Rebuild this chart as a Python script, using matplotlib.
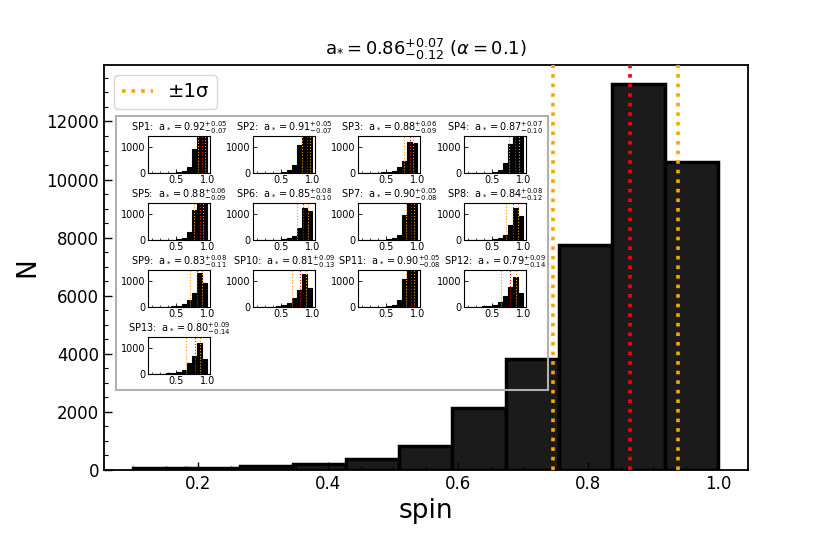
import numpy as np
import matplotlib
matplotlib.use('Agg')
import matplotlib.pyplot as plt
from matplotlib.patches import Rectangle
from matplotlib.ticker import AutoMinorLocator

# Main histogram (11 bins between 0.1 and 1.0)
bin_edges = np.linspace(0.1, 1.0, 12)
main_counts = [80, 70, 125, 220, 390, 840, 2120, 3830, 7760, 13280, 10620]
main_spin = 0.864
main_err_lo = 0.118
main_err_hi = 0.074

# Per-source histograms
sp_names = ['SP1', 'SP2', 'SP3', 'SP4', 'SP5', 'SP6', 'SP7',
            'SP8', 'SP9', 'SP10', 'SP11', 'SP12', 'SP13']
sp_spin = [0.92, 0.91, 0.88, 0.87, 0.88, 0.85, 0.90, 0.84, 0.83, 0.81, 0.90, 0.79, 0.80]
sp_err_hi = [0.05, 0.05, 0.06, 0.07, 0.06, 0.08, 0.05, 0.08, 0.08, 0.09, 0.05, 0.09, 0.09]
sp_err_lo = [0.07, 0.07, 0.09, 0.10, 0.09, 0.10, 0.08, 0.12, 0.11, 0.13, 0.08, 0.14, 0.14]
sp_counts = [
    [3, 3, 5, 8, 12, 25, 60, 230, 900, 2400, 2600],
    [3, 3, 5, 8, 15, 40, 120, 310, 1060, 2300, 2200],
    [5, 5, 10, 15, 25, 50, 90, 210, 440, 1190, 1130],
    [3, 3, 6, 10, 18, 45, 120, 370, 1090, 2100, 2000],
    [3, 3, 5, 8, 12, 25, 70, 320, 1140, 2200, 2100],
    [3, 3, 5, 8, 12, 25, 60, 165, 440, 1200, 1080],
    [3, 3, 5, 8, 12, 25, 65, 200, 960, 2300, 2400],
    [3, 3, 6, 10, 18, 35, 80, 200, 560, 1200, 900],
    [3, 3, 6, 12, 20, 40, 100, 250, 530, 1300, 900],
    [3, 5, 8, 15, 25, 60, 150, 350, 660, 1240, 720],
    [3, 3, 5, 8, 12, 25, 80, 280, 1050, 2300, 2300],
    [5, 8, 15, 25, 40, 90, 200, 430, 740, 1120, 530],
    [5, 8, 15, 25, 40, 70, 160, 410, 700, 1190, 560],
]

W, H = 830, 554
fig = plt.figure(figsize=(W / 100, H / 100), dpi=100)
ax = fig.add_axes([104 / W, 1 - 470 / H, (747.5 - 104) / W, (470 - 65) / H])

widths = np.diff(bin_edges)
ax.bar(bin_edges[:-1], main_counts, width=widths, align='edge',
       facecolor='#1b1b1b', edgecolor='black', linewidth=2.5)

ax.axvline(main_spin - main_err_lo, color='orange', ls=':', lw=2.6, label='±1σ', zorder=5)
ax.axvline(main_spin + main_err_hi, color='orange', ls=':', lw=2.6, zorder=5)
ax.axvline(main_spin, color='red', ls=':', lw=2.6, zorder=5)

ax.set_title(r'a$_{*} = 0.86^{+0.07}_{-0.12}$ ($\alpha = 0.1$)', fontsize=13, pad=7)
ax.set_xlabel('spin', fontsize=19)
ax.set_ylabel('N', fontsize=19)
ax.set_xticks([0.2, 0.4, 0.6, 0.8, 1.0])
ax.set_yticks(np.arange(0, 13000, 2000))
ax.xaxis.set_minor_locator(AutoMinorLocator(4))
ax.yaxis.set_minor_locator(AutoMinorLocator(4))
ax.tick_params(which='both', direction='in', labelsize=12)
ax.tick_params(which='major', length=6, width=1)
ax.tick_params(which='minor', length=3, width=0.8)
for s in ax.spines.values():
    s.set_linewidth(1.3)

ax.legend(loc='upper left', fontsize=14, handlelength=1.6)

# Grey frame around the per-source panels
fig.add_artist(Rectangle((116 / W, 1 - 390 / H), (548 - 116) / W, (390 - 116) / H,
                         transform=fig.transFigure, fill=False,
                         edgecolor='#b0b0b0', linewidth=1.5, zorder=10))

col_left = [148, 253, 358, 464]
row_top = [136, 203, 270, 337]
iw, ih = 62, 37
for i, name in enumerate(sp_names):
    r, c = divmod(i, 4)
    x0, y0 = col_left[c], row_top[r]
    iax = fig.add_axes([x0 / W, 1 - (y0 + ih) / H, iw / W, ih / H], zorder=11)
    iax.bar(bin_edges[:-1], sp_counts[i], width=widths, align='edge',
            facecolor='black', edgecolor='black', linewidth=0.8)
    med = sp_spin[i]
    iax.axvline(med - sp_err_lo[i], color='orange', ls=':', lw=0.8)
    iax.axvline(med + sp_err_hi[i], color='orange', ls=':', lw=0.8)
    iax.axvline(med, color='red', ls=':', lw=0.8)
    iax.set_xlim(0.055, 1.045)
    iax.set_ylim(0, 1400)
    iax.set_xticks([0.5, 1.0])
    iax.set_xticklabels(['0.5', '1.0'])
    iax.set_yticks([0, 1000])
    iax.xaxis.set_minor_locator(AutoMinorLocator(4))
    iax.tick_params(which='both', direction='in', labelsize=7, pad=1.5)
    iax.tick_params(which='major', length=3, width=0.6)
    iax.tick_params(which='minor', length=1.5, width=0.5)
    for s in iax.spines.values():
        s.set_linewidth(0.8)
    iax.set_title(r'%s:  a$_* = %.2f^{+%.2f}_{-%.2f}$' % (name, med, sp_err_hi[i], sp_err_lo[i]),
                  fontsize=7, pad=2)

fig.savefig('out.png', dpi=100, facecolor='white')
